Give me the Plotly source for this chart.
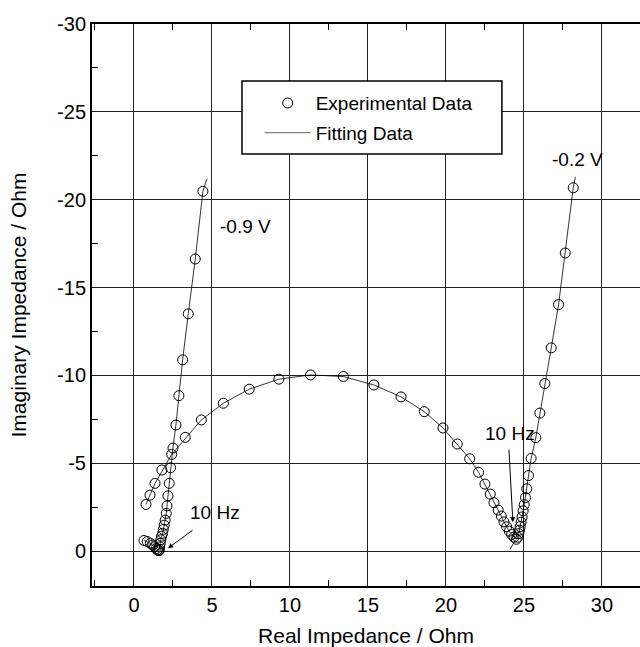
import plotly.graph_objects as go

# -0.9 V experimental data (Real, Imag), high -> low frequency
x_09 = [0.64, 0.85, 1.05, 1.2, 1.32, 1.42, 1.5, 1.56, 1.6, 1.62, 1.65, 1.68, 1.72, 1.77,
        1.84, 1.88, 1.94, 2.0, 2.07, 2.12, 2.18, 2.26, 2.35, 2.5, 2.69, 2.88, 3.12, 3.48, 3.93, 4.42]
y_09 = [-0.61, -0.55, -0.45, -0.35, -0.25, -0.15, -0.08, -0.04, -0.03, -0.1, -0.25, -0.45, -0.65, -0.85,
        -1.02, -1.24, -1.48, -1.77, -2.15, -2.58, -3.15, -3.86, -4.75, -5.87, -7.18, -8.85, -10.89, -13.51, -16.63, -20.48]

# -0.9 V fitting curve
fx_09 = [0.64, 1.05, 1.32, 1.5, 1.6, 1.65, 1.72, 1.84, 1.94, 2.07, 2.18, 2.35, 2.5, 2.69, 2.88, 3.12, 3.48, 3.93, 4.42, 4.68]
fy_09 = [-0.61, -0.45, -0.25, -0.08, -0.03, -0.25, -0.65, -1.02, -1.48, -2.15, -3.15, -4.75, -5.87, -7.18, -8.85, -10.89, -13.51, -16.63, -20.48, -21.2]

# -0.2 V experimental data
x_02 = [0.77, 1.03, 1.35, 1.79, 2.42, 3.29, 4.32, 5.73, 7.39, 9.29, 11.32, 13.42, 15.38, 17.12, 18.61,
        19.81, 20.73, 21.52, 22.09, 22.5, 22.84, 23.08, 23.35, 23.55, 23.72, 23.89, 24.06, 24.21, 24.36,
        24.51, 24.6, 24.66, 24.72, 24.76, 24.82, 24.88, 24.95, 25.02, 25.1, 25.18, 25.29, 25.46, 25.76,
        26.02, 26.34, 26.75, 27.22, 27.65, 28.16]
y_02 = [-2.66, -3.19, -3.86, -4.62, -5.51, -6.48, -7.47, -8.42, -9.22, -9.79, -10.03, -9.94, -9.46, -8.78, -7.94,
        -7.01, -6.1, -5.26, -4.49, -3.82, -3.25, -2.76, -2.34, -2.0, -1.67, -1.39, -1.14, -0.95, -0.8,
        -0.68, -0.8, -1.0, -1.2, -1.4, -1.65, -1.95, -2.3, -2.65, -3.05, -3.55, -4.3, -5.28, -6.46,
        -7.86, -9.54, -11.57, -14.03, -16.97, -20.68]

# -0.2 V fitting curve
fx_02 = [0.77, 1.35, 2.42, 4.32, 5.73, 7.39, 9.29, 11.32, 13.42, 15.38, 17.12, 18.61, 19.81, 20.73, 21.52,
         22.09, 22.84, 23.35, 23.72, 24.06, 24.36, 24.51, 24.66, 24.76, 24.88, 25.02, 25.18, 25.46,
         25.76, 26.02, 26.34, 26.75, 27.22, 27.65, 28.16, 28.3]
fy_02 = [-2.66, -3.86, -5.51, -7.47, -8.42, -9.22, -9.79, -10.03, -9.94, -9.46, -8.78, -7.94, -7.01, -6.1, -5.26,
         -4.49, -3.25, -2.34, -1.67, -1.14, -0.8, -0.68, -1.0, -1.4, -1.95, -2.65, -3.55, -5.28,
         -6.46, -7.86, -9.54, -11.57, -14.03, -16.97, -20.68, -21.3]
# short low-end extension of the -0.2 V fit below its minimum
fx_02_tail = [24.45, 24.1]
fy_02_tail = [-0.62, -0.1]

x_ticks = [0, 5, 10, 15, 20, 25, 30]
x_labels = ["0", "5", "10", "15", "20", "25", "30"]
y_ticks = [0, -5, -10, -15, -20, -25, -30]
y_labels = ["0", "-5", "-10", "-15", "-20", "-25", "-30"]

FONT = "Liberation Sans, Arial, sans-serif"

fig = go.Figure()
marker = dict(symbol="circle-open", size=10, color="black", line=dict(width=1, color="black"))
line = dict(color="black", width=0.8)

fig.add_trace(go.Scatter(x=fx_09, y=fy_09, mode="lines", line=line, name="Fitting Data",
                         legendgroup="fit", showlegend=False))
fig.add_trace(go.Scatter(x=fx_02, y=fy_02, mode="lines", line=line, name="Fitting Data",
                         legendgroup="fit", showlegend=False))
fig.add_trace(go.Scatter(x=fx_02_tail, y=fy_02_tail, mode="lines", line=line, name="Fitting Data",
                         legendgroup="fit", showlegend=False))
fig.add_trace(go.Scatter(x=x_09, y=y_09, mode="markers", marker=marker, name="Experimental Data",
                         legendgroup="exp", showlegend=True, legendrank=1))
fig.add_trace(go.Scatter(x=x_02, y=y_02, mode="markers", marker=marker, name="Experimental Data",
                         legendgroup="exp", showlegend=False))
fig.add_trace(go.Scatter(x=[None], y=[None], mode="lines", line=dict(color="#666", width=1),
                         name="Fitting Data", legendgroup="fit", showlegend=True, legendrank=2))

# legend frame
fig.add_shape(type="rect", xref="paper", yref="paper", x0=0.2737, x1=0.748, y0=0.7686, y1=0.8985,
              line=dict(color="black", width=1.5), fillcolor="white", layer="above")

fig.update_layout(
    width=640, height=647,
    margin=dict(l=92, r=0, t=24, b=61),
    paper_bgcolor="white", plot_bgcolor="white",
    font=dict(family=FONT, size=20, color="black"),
    legend=dict(x=0.306, y=0.893, xanchor="left", yanchor="top", bgcolor="rgba(0,0,0,0)",
                borderwidth=0, font=dict(size=19, family=FONT), itemwidth=46,
                tracegroupgap=2, traceorder="grouped"),
    showlegend=True,
)

fig.update_xaxes(
    range=[-2.69, 32.44], tickmode="array", tickvals=x_ticks, ticktext=x_labels,
    showgrid=True, gridcolor="#222", gridwidth=1, zeroline=False,
    showline=True, linecolor="black", linewidth=2, mirror="ticks",
    ticks="inside", ticklen=0, tickcolor="black",
    minor=dict(tickvals=[-2.5, 2.5, 7.5, 12.5, 17.5, 22.5, 27.5, 32.5], ticks="inside", ticklen=6, tickcolor="black", showgrid=False),
    title=dict(text="Real Impedance / Ohm", font=dict(size=21), standoff=14),
    tickfont=dict(size=20),
)
fig.update_yaxes(
    range=[1.98, -30], tickmode="array", tickvals=y_ticks, ticktext=y_labels,
    showgrid=True, gridcolor="#222", gridwidth=1, zeroline=False,
    showline=True, linecolor="black", linewidth=2, mirror=False,
    ticks="inside", ticklen=0, tickcolor="black",
    minor=dict(tickvals=[-2.5, -7.5, -12.5, -17.5, -22.5, -27.5], ticks="inside", ticklen=6, tickcolor="black", showgrid=False),
    title=dict(text="Imaginary Impedance / Ohm", font=dict(size=21), standoff=25),
    tickfont=dict(size=20),
)

ann_font = dict(family=FONT, size=19, color="black")
fig.add_annotation(x=7.12, y=-18.47, text="-0.9 V", showarrow=False, font=ann_font)
fig.add_annotation(x=28.46, y=-22.29, text="-0.2 V", showarrow=False, font=ann_font)
fig.add_annotation(x=5.19, y=-2.22, text="10 Hz", showarrow=False, font=ann_font)
fig.add_annotation(x=24.1, y=-6.67, text="10 Hz", showarrow=False, font=ann_font)
fig.add_annotation(x=2.18, y=-0.17, text="", showarrow=True, ax=26, ay=-19,
                   arrowhead=2, arrowsize=1, arrowwidth=1, arrowcolor="black")
fig.add_annotation(x=24.29, y=-1.65, text="", showarrow=True, ax=-4, ay=-74,
                   arrowhead=2, arrowsize=1, arrowwidth=1, arrowcolor="black")

fig.write_html("out.html", config={"displayModeBar": False},
               post_script="document.body.style.margin='0px';")
